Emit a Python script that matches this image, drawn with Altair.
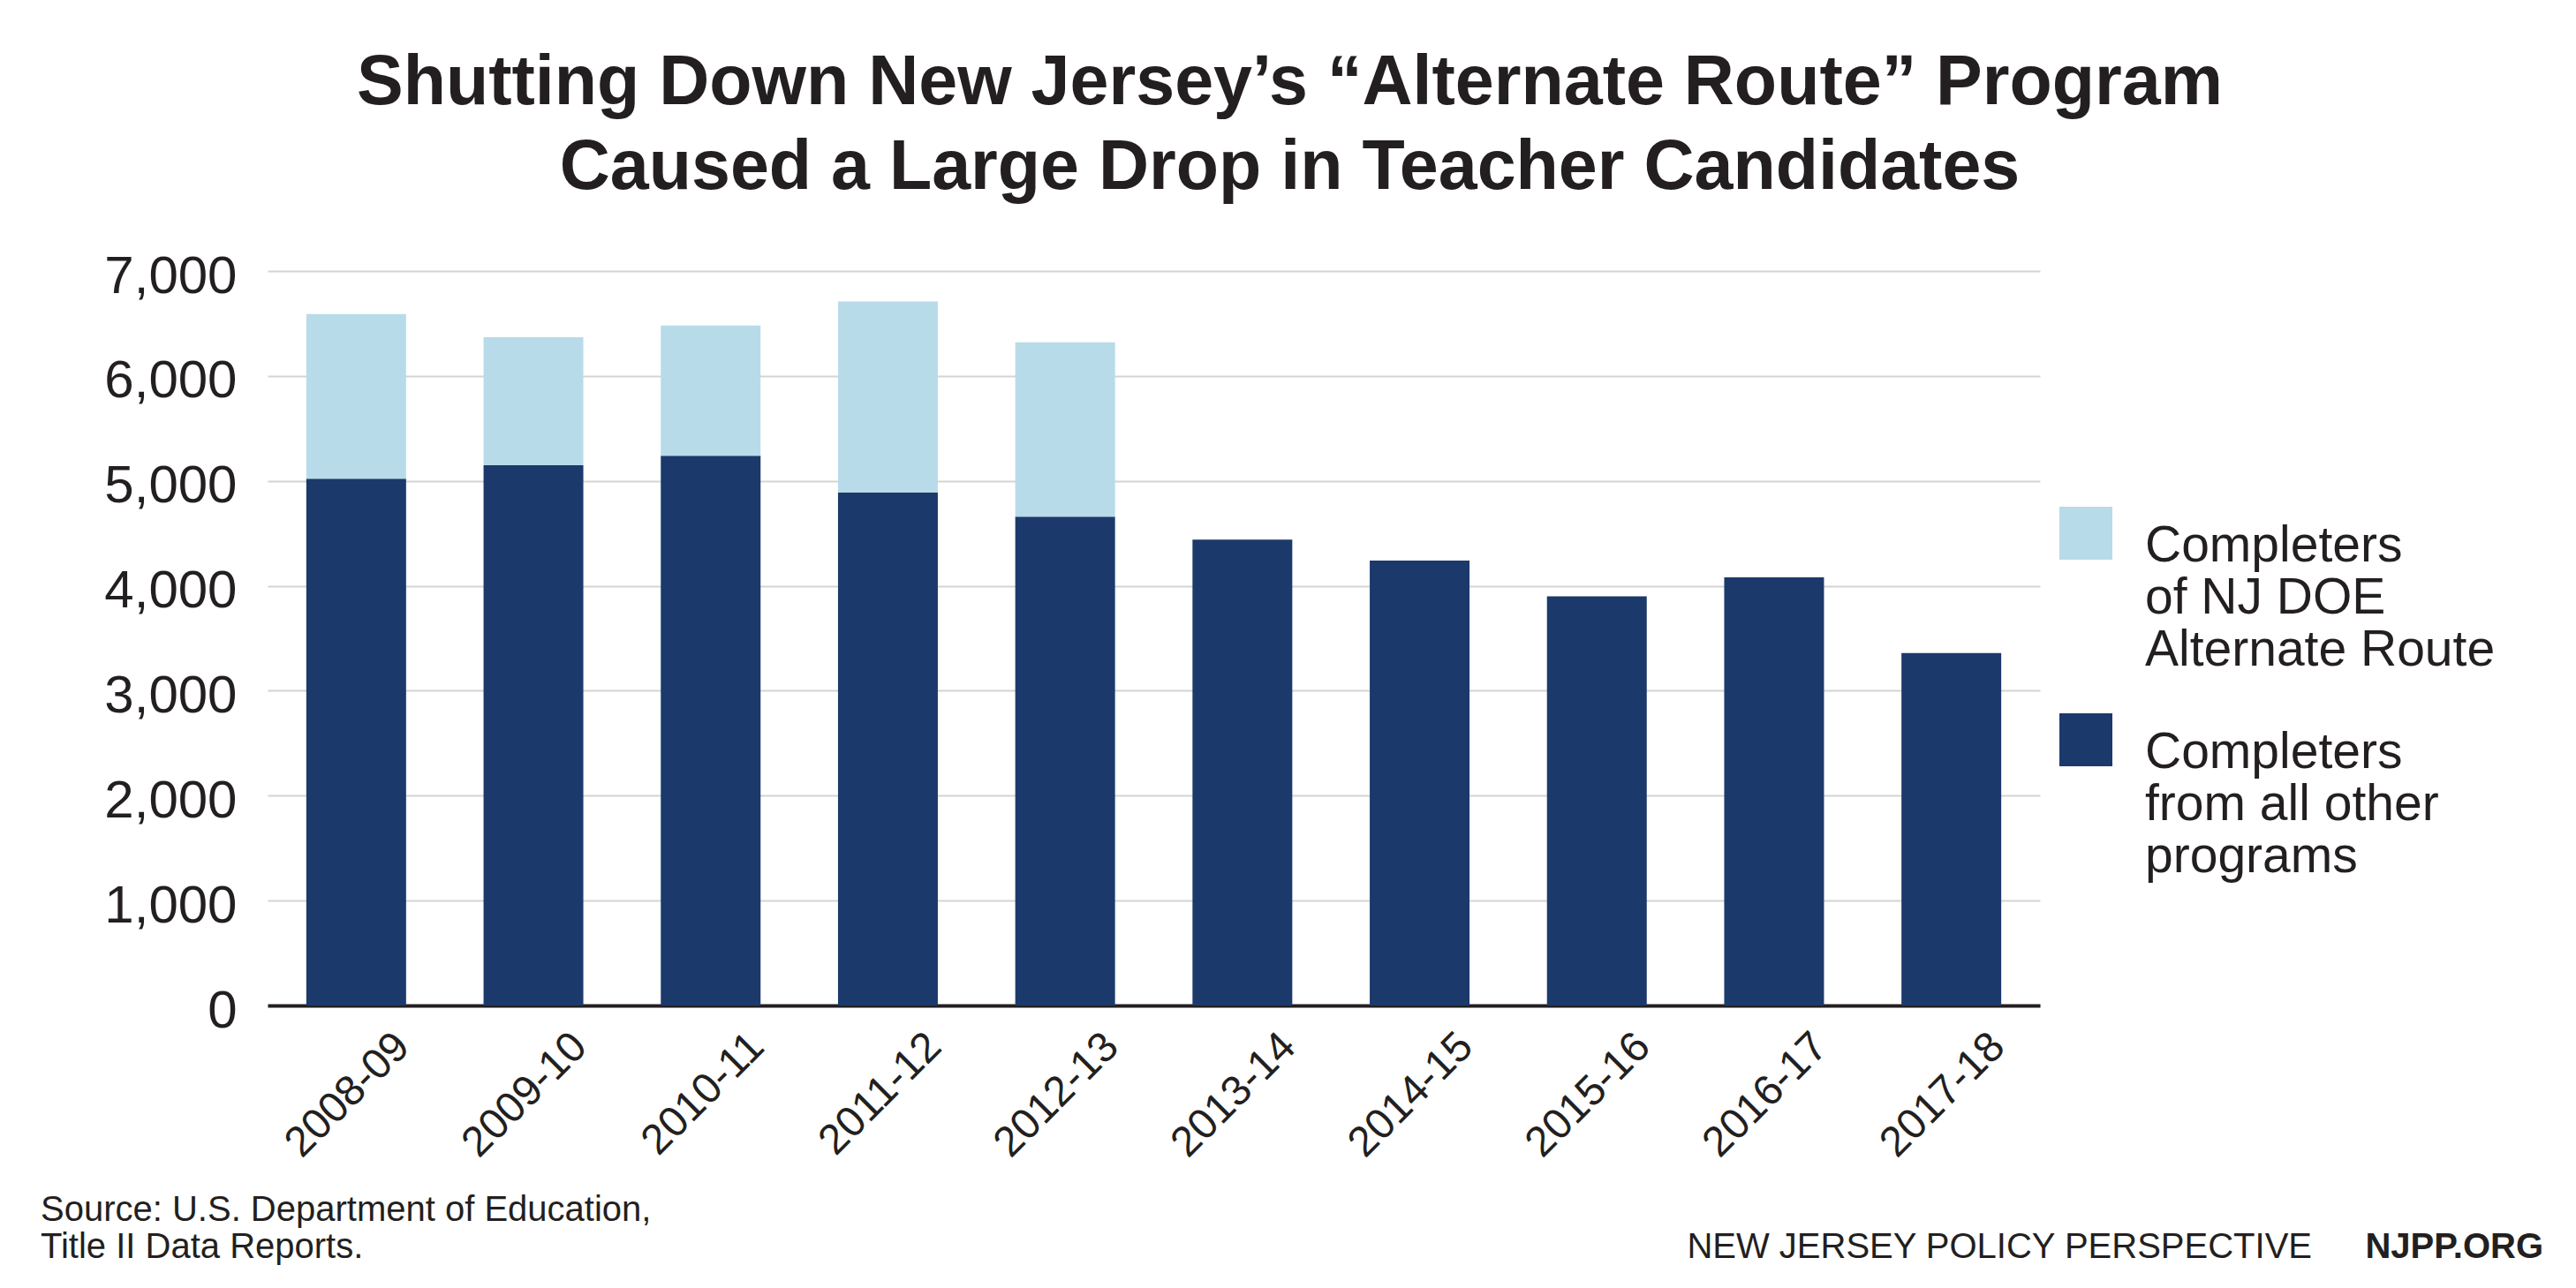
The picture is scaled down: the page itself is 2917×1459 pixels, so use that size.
import altair as alt
import pandas as pd

years = ["2008-09", "2009-10", "2010-11", "2011-12", "2012-13",
         "2013-14", "2014-15", "2015-16", "2016-17", "2017-18"]
other_programs = [5020, 5150, 5240, 4890, 4660, 4440, 4240, 3900, 4080, 3360]
alternate_route = [1570, 1220, 1240, 1820, 1660, 0, 0, 0, 0, 0]

series_alt = "Completers of NJ DOE Alternate Route"
series_other = "Completers from all other programs"
series_names = [series_alt, series_other]
series_colors = ["#b8dbea", "#1b3a6b"]

title_lines = ["Shutting Down New Jersey\u2019s \u201cAlternate Route\u201d Program",
               "Caused a Large Drop in Teacher Candidates"]
source_lines = ["Source: U.S. Department of Education,", "Title II Data Reports."]
org_name = "NEW JERSEY POLICY PERSPECTIVE"
org_url = "NJPP.ORG"

rows = []
for y, o, a in zip(years, other_programs, alternate_route):
    rows.append({"year": y, "series": series_other, "value": o, "ord": 0})
    if a > 0:
        rows.append({"year": y, "series": series_alt, "value": a, "ord": 1})
df = pd.DataFrame(rows)

FONT = "Liberation Sans"
TXT = "#231f20"

legend_expr = ("datum.label == '" + series_alt + "' ? ['Completers', 'of NJ DOE', 'Alternate Route']"
               " : ['Completers', 'from all other', 'programs']")
# square swatch drawn slightly below its anchor so the first label line sits beside its top
swatch_path = "M-1,-0.567L1,-0.567L1,1.433L-1,1.433Z"

bars = alt.Chart(df).mark_bar(stroke=None).encode(
    x=alt.X("year:N", sort=years, title=None,
            scale=alt.Scale(paddingInner=0.437, paddingOuter=0.2185),
            axis=alt.Axis(labelAngle=-45, labelAlign="right", labelBaseline="top",
                          labelFontSize=48, labelFont=FONT, labelColor=TXT,
                          labelOffset=36, labelPadding=22, ticks=False, tickSize=0,
                          domain=True, domainColor=TXT, domainWidth=4, grid=False)),
    y=alt.Y("value:Q", stack="zero", title=None,
            scale=alt.Scale(domain=[0, 7000], nice=False),
            axis=alt.Axis(values=[0, 1000, 2000, 3000, 4000, 5000, 6000, 7000], format=",.0f",
                          labelFontSize=60, labelFont=FONT, labelColor=TXT,
                          labelPadding=35, ticks=False, tickSize=0, domain=False,
                          labelOffset=6,
                          grid=True, gridColor="#d4d4d4", gridWidth=2)),
    color=alt.Color("series:N", scale=alt.Scale(domain=series_names, range=series_colors),
                    legend=alt.Legend(title=None, orient="none", legendX=2029, legendY=254,
                                      symbolType=swatch_path, symbolSize=3600,
                                      symbolStrokeWidth=0, labelFontSize=57, labelFont=FONT,
                                      labelColor=TXT, labelLimit=0, labelOffset=37,
                                      labelBaseline="top", labelExpr=legend_expr,
                                      rowPadding=30, padding=0)),
    order=alt.Order("ord:Q", sort="ascending"),
)

source_txt = alt.Chart(pd.DataFrame({"t": [source_lines]})).mark_text(
    align="left", baseline="alphabetic", fontSize=40, font=FONT, color=TXT, lineHeight=42
).encode(text="t", x=alt.value(-257), y=alt.value(1076))

org_txt = alt.Chart(pd.DataFrame({"t": [org_name]})).mark_text(
    align="right", baseline="alphabetic", fontSize=40, font=FONT, color=TXT
).encode(text="t", x=alt.value(2315), y=alt.value(1118))

url_txt = alt.Chart(pd.DataFrame({"t": [org_url]})).mark_text(
    align="right", baseline="alphabetic", fontSize=40, font=FONT, color=TXT, fontWeight="bold"
).encode(text="t", x=alt.value(2577), y=alt.value(1118))

chart = alt.layer(bars, source_txt, org_txt, url_txt).properties(
    width=2007, height=832,
    title=alt.TitleParams(text=title_lines, fontSize=79, font=FONT, fontWeight="bold",
                          color=TXT, anchor="middle", lineHeight=96, offset=52, dx=154),
    padding={"left": 303, "top": 307, "right": 607, "bottom": 320},
    autosize=alt.AutoSizeParams(type="none"),
).configure(background="white").configure_view(stroke=None)

chart.save("out.html", embed_options={"renderer": "svg", "actions": False})
